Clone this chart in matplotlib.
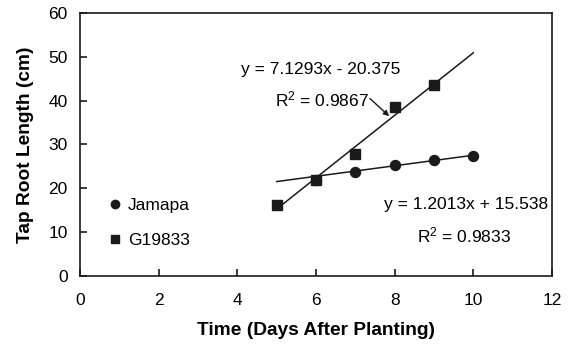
import numpy as np
import matplotlib
matplotlib.use("Agg")
import matplotlib.pyplot as plt
from matplotlib.lines import Line2D

plt.rcParams['font.family'] = ['Liberation Sans', 'DejaVu Sans']
plt.rcParams['mathtext.fontset'] = 'custom'
plt.rcParams['mathtext.rm'] = 'Liberation Sans'
plt.rcParams['mathtext.it'] = 'Liberation Sans:italic'
plt.rcParams['mathtext.bf'] = 'Liberation Sans:bold'

# Tap root length measurements (cm) by days after planting
jamapa_days = [6, 7, 8, 9, 10]
jamapa_len = [22.0, 23.8, 25.3, 26.5, 27.4]
g19833_days = [5, 6, 7, 8, 9]
g19833_len = [16.3, 22.0, 27.8, 38.5, 43.6]

# Linear trendline coefficients (slope, intercept, R^2)
jamapa_fit = (1.2013, 15.538, 0.9833)
g19833_fit = (7.1293, -20.375, 0.9867)
jamapa_fit_range = (5, 10)
g19833_fit_range = (5, 10)

x_ticks = [0, 2, 4, 6, 8, 10, 12]
y_ticks = [0, 10, 20, 30, 40, 50, 60]

fig = plt.figure(figsize=(5.7, 3.44), dpi=100)
ax = fig.add_axes([0.1404, 0.1977, 0.828, 0.7645])

fs = 12.5
ink = '#1a1a1a'

# trendlines
for (m, b, _), (x0, x1) in [(jamapa_fit, jamapa_fit_range), (g19833_fit, g19833_fit_range)]:
    xs = np.array([x0, x1])
    ax.plot(xs, m * xs + b, color=ink, lw=1.1, zorder=2)

ax.plot(jamapa_days, jamapa_len, 'o', color=ink, ms=7.2, zorder=3)
ax.plot(g19833_days, g19833_len, 's', color=ink, ms=6.8, zorder=3)

ax.set_xlim(0, 12)
ax.set_ylim(0, 60)
ax.set_xticks(x_ticks)
ax.set_yticks(y_ticks)
ax.tick_params(direction='in', length=5, width=1.2, labelsize=fs, color=ink)
ax.tick_params(axis='x', pad=12)
ax.tick_params(axis='y', pad=9)
for s in ax.spines.values():
    s.set_linewidth(1.2)
    s.set_color(ink)

ax.set_xlabel('Time (Days After Planting)', fontsize=13.8, fontweight='bold', labelpad=10)
ax.set_ylabel('Tap Root Length (cm)', fontsize=13.8, fontweight='bold', labelpad=10)

# equations
m, b, r2 = g19833_fit
ax.text(4.1, 47.0, f'y = {m}x - {abs(b)}', fontsize=fs, va='center', ha='left')
ax.text(4.96, 40.2, f'R$^2$ = {r2}', fontsize=fs, va='center', ha='left')
xa = 7.86
ax.annotate('', xy=(xa, m * xa + b + 0.8), xytext=(7.37, 40.5),
            arrowprops=dict(arrowstyle='-|>', color=ink, lw=1.0,
                            mutation_scale=8, shrinkA=0, shrinkB=0))

m, b, r2 = jamapa_fit
ax.text(11.9, 16.2, f'y = {m}x + {b}', fontsize=fs, va='center', ha='right')
ax.text(10.95, 9.35, f'R$^2$ = {r2}', fontsize=fs, va='center', ha='right')

handles = [Line2D([], [], ls='none', marker='o', color=ink, ms=6),
           Line2D([], [], ls='none', marker='s', color=ink, ms=5.5)]
ax.legend(handles, ['Jamapa', 'G19833'], loc='upper left', bbox_to_anchor=(0.045, 0.33),
          frameon=False, fontsize=fs, handlelength=0.6, handletextpad=0.45,
          labelspacing=1.15, borderpad=0)

fig.savefig('out.png', dpi=100)
